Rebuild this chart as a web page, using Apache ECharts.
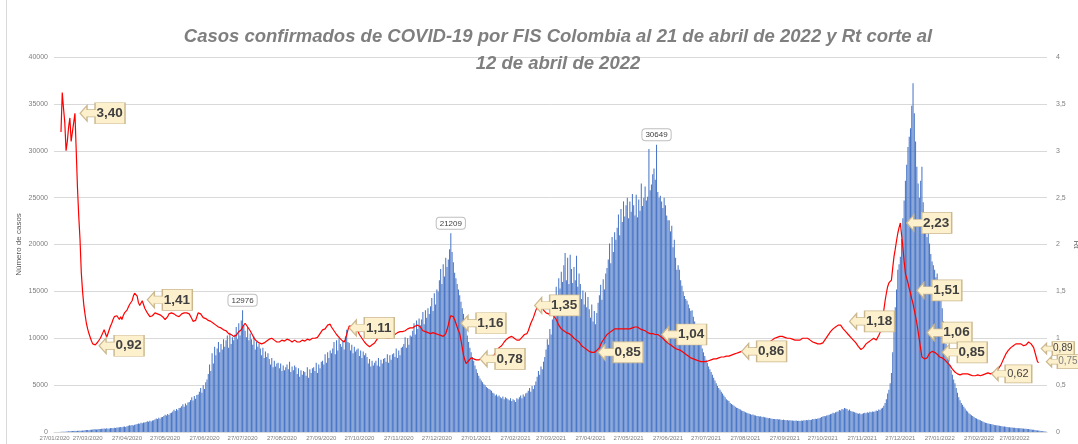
<!DOCTYPE html>
<html>
<head>
<meta charset="utf-8">
<script src="https://cdn.jsdelivr.net/npm/echarts@6/dist/echarts.min.js"></script>
<style>
  html, body { margin: 0; padding: 0; background: #fff; }
  #chart { width: 1078px; height: 444px; }
</style>
</head>
<body>
<div id="chart"></div>
<script>
// casos diarios por FIS: 27/01/2020 y luego desde 02/03/2020 hasta 21/04/2022
var cases = [
  1,
  3,6,9,12,18,25,32,
  40,52,61,70,85,96,110,
  118,126,112,130,141,122,135,
  150,172,190,205,221,198,230,
  245,262,290,305,278,300,318,
  330,355,342,371,360,390,348,
  380,412,440,398,455,430,470,
  480,510,545,498,560,590,530,
  610,655,720,690,760,705,780,
  810,850,920,880,975,930,1010,
  1020,1080,1150,1090,1190,1120,1240,
  1260,1330,1450,1380,1520,1410,1580,
  1600,1720,1850,1760,1930,1820,2010,
  2050,2190,2380,2240,2460,2310,2560,
  2600,2750,2950,2700,3050,2850,3150,
  3200,3400,3700,3350,3850,3550,3950,
  4000,4300,4700,4200,5000,4600,5300,
  5600,6200,7200,6500,8400,7300,9100,
  8200,8900,9600,8500,9400,8800,9900,
  9100,9800,10300,9000,10600,9400,10100,
  9800,10400,11200,9900,11600,10300,11900,
  12976,11400,10800,10100,11200,9800,10500,
  9900,9300,10200,8800,9600,9100,9400,
  8900,8200,9000,7900,8600,8000,8400,
  7800,7200,7900,6900,7600,7000,7300,
  7400,6800,7300,6500,7100,6600,6900,
  7200,6700,7500,6400,7000,6600,7100,
  6900,6200,6800,5900,6600,6100,6500,
  6400,6000,6900,5800,6700,6300,6800,
  6900,6500,7400,6300,7200,6800,7500,
  7600,7200,8300,7400,8500,7900,8700,
  8400,8900,9600,8300,9800,8700,10000,
  9400,9100,9700,8800,10200,10900,9600,
  9500,8700,9300,8400,9100,8600,8800,
  8900,8100,8700,7900,8600,8200,8400,
  8000,7300,7800,7000,7600,7100,7400,
  7600,7100,7900,7000,7700,7300,7800,
  7900,7500,8300,7400,8200,7700,8300,
  8400,8000,8900,7900,8700,8200,9000,
  9100,9400,10100,9000,10000,9300,10300,
  10200,10800,11600,10400,11900,11000,12100,
  11400,12000,12800,11500,13000,12200,13200,
  12600,13400,14300,12900,14800,13600,15200,
  15000,16200,17400,15800,17900,16600,18600,
  17600,18400,19500,21209,19200,18100,17000,
  16400,15800,15200,14600,13900,13200,12600,
  11800,11000,10300,9600,9000,8500,8000,
  7600,7100,6700,6300,6000,5700,5500,
  5300,5100,5000,4800,4700,4600,4500,
  4400,4200,4100,3900,4000,3800,3900,
  3700,3600,3800,3500,3700,3600,3500,
  3400,3600,3300,3500,3400,3200,3600,
  3500,3700,3900,3600,4000,3800,4100,
  4200,4400,4700,4300,4900,4600,5000,
  5400,5900,6500,6100,7000,6700,7500,
  8000,8800,9900,9300,11000,10400,12000,
  12800,13900,15500,14200,16400,15300,17100,
  16000,17800,19100,16200,18600,15800,18900,
  17400,15900,17600,16200,18800,15500,16900,
  15800,14200,15100,13600,14900,13300,14400,
  13100,12200,13600,11800,12900,11500,12700,
  13800,14600,15700,14100,16300,15200,16900,
  17500,18400,20100,18000,20800,19200,21300,
  20500,21800,23200,21000,23800,22400,24600,
  23000,24200,25000,22800,24600,23500,25400,
  24200,23100,25300,22900,24800,23600,26500,
  24100,25000,26200,24700,25100,30200,25800,
  26400,27500,28100,26900,30649,25600,25000,
  25200,24600,23900,25000,24200,23100,22600,
  22600,21400,22000,19700,20500,18600,17300,
  17800,17300,16200,15600,15000,14500,14200,
  14000,13600,13200,12900,13000,12300,11800,
  11200,10600,10100,9700,9300,8900,8500,
  8100,7700,7400,7000,6700,6400,6100,
  5800,5500,5200,4900,4700,4500,4300,
  4100,3900,3700,3500,3400,3300,3100,
  3000,2900,2800,2700,2600,2550,2450,
  2400,2300,2250,2200,2100,2050,2000,
  1950,1900,1850,1880,1800,1760,1720,
  1700,1650,1680,1600,1620,1580,1550,
  1520,1480,1500,1450,1420,1400,1380,
  1360,1400,1330,1350,1300,1280,1320,
  1290,1250,1270,1230,1260,1220,1240,
  1210,1190,1230,1180,1200,1170,1220,
  1200,1250,1230,1280,1260,1300,1290,
  1320,1380,1360,1420,1400,1450,1480,
  1520,1600,1650,1700,1680,1750,1800,
  1850,1900,1950,2050,2000,2100,2150,
  2200,2350,2300,2450,2400,2550,2500,
  2450,2300,2400,2250,2200,2150,2100,
  2050,2000,1950,2000,1900,1950,2000,
  2050,2000,2100,2050,2150,2100,2200,
  2150,2200,2300,2250,2400,2350,2500,
  2600,2800,3100,3500,4100,4500,5200,
  6300,8500,10800,13300,15200,17300,17900,
  18700,20600,22800,24700,26800,28500,30400,
  31500,32400,34800,37200,34000,31000,28300,
  26500,25000,26800,28300,24500,23400,22000,
  20800,21500,20100,19000,18200,17800,17300,
  16500,16900,15800,15100,14400,13200,11800,
  10500,9400,8400,7800,7200,6600,6100,
  5600,5200,4700,4200,3700,3400,3100,
  2900,2700,2500,2300,2200,2000,1900,
  1800,1700,1600,1500,1450,1350,1300,
  1250,1180,1120,1050,1000,960,920,
  880,850,820,790,760,730,710,
  690,660,640,620,600,580,560,
  540,520,510,490,480,460,450,
  440,420,410,400,390,370,360,
  350,340,320,310,290,270,250,
  230,210,190,170,150,130,110,
  90,70,50,30
];

// Rt diario (mismas fechas)
var rt = [
  null,null,null,null,null,
  3.2,3.62,3.45,3.3,3.0,3.1,3.25,3.35,3.1,3.2,3.3,3.4,3.0,2.6,2.3,2.05,
  1.7,1.5,1.35,1.25,1.16,1.1,1.05,1.01,0.97,0.94,
  0.92,0.93,0.95,0.96,0.98,1.0,1.03,1.06,1.09,1.05,
  1.01,1.0,1.09,1.13,1.16,1.2,1.23,1.21,1.24,1.22,
  1.2,1.23,1.2,1.24,1.27,1.28,1.3,1.33,1.36,1.38,
  1.4,1.45,1.48,1.46,1.45,1.38,1.35,1.37,1.4,1.36,
  1.32,1.3,1.27,1.25,1.23,1.22,1.24,1.26,1.27,1.28,
  1.26,1.27,1.25,1.25,1.23,1.22,1.2,1.2,1.23,1.26,
  1.28,1.27,1.26,1.26,1.25,1.24,1.23,1.23,1.24,1.26,
  1.27,1.27,1.26,1.27,1.26,1.26,1.24,1.21,1.18,1.16,
  1.19,1.23,1.27,1.28,1.26,1.24,1.22,1.22,1.21,1.2,
  1.19,1.19,1.18,1.17,1.16,1.15,1.14,1.13,1.12,1.12,
  1.11,1.1,1.09,1.09,1.08,1.07,1.05,1.05,1.04,1.03,
  1.02,1.01,1.03,1.05,1.07,1.08,1.09,1.12,1.14,1.16,
  1.15,1.12,1.1,1.08,1.06,1.03,1.0,0.98,0.97,0.96,
  0.95,0.95,0.94,0.95,0.95,0.96,0.97,0.98,0.99,1.0,
  1.0,0.99,0.98,0.97,0.96,0.96,0.96,0.97,0.98,0.97,
  0.97,0.98,0.99,0.98,0.98,0.97,0.96,0.97,0.98,0.97,
  0.96,0.96,0.96,0.97,0.98,0.98,0.97,0.98,0.99,0.98,
  0.98,0.99,1.0,1.01,1.0,1.01,1.01,1.03,1.05,1.07,
  1.09,1.1,1.1,1.12,1.14,1.16,1.15,1.12,1.1,1.08,
  1.06,1.04,1.02,1.01,0.99,0.98,0.97,0.96,0.99,1.04,
  1.09,1.13,1.14,1.13,1.14,1.14,1.12,1.1,1.07,1.04,
  1.02,1.0,0.98,0.96,0.94,0.93,0.92,0.91,0.92,0.93,
  0.94,0.95,0.97,0.99,1.02,1.05,1.04,1.03,1.02,1.01,
  1.0,1.0,1.0,1.0,1.01,1.02,1.03,1.04,1.05,1.06,
  1.07,1.07,1.06,1.07,1.08,1.08,1.09,1.1,1.1,1.11,
  1.11,1.11,1.12,1.13,1.14,1.14,1.14,1.12,1.1,1.08,
  1.07,1.07,1.07,1.06,1.06,1.05,1.05,1.06,1.05,1.05,
  1.05,1.04,1.04,1.03,1.02,1.02,1.02,1.05,1.09,1.14,
  1.2,1.24,1.25,1.23,1.2,1.18,1.12,1.08,1.05,0.98,
  0.9,0.82,0.77,0.73,0.74,0.76,0.78,0.79,0.79,0.78,
  0.78,0.77,0.77,0.77,0.77,0.78,0.78,0.79,0.8,0.8,
  0.8,0.8,0.8,0.8,0.8,0.82,0.84,0.86,0.88,0.9,
  0.91,0.92,0.94,0.96,0.98,0.99,1.0,1.01,1.02,1.02,
  1.01,1.0,0.99,0.98,0.98,0.98,0.99,1.01,1.03,1.04,
  1.05,1.05,1.08,1.12,1.16,1.19,1.22,1.26,1.3,1.33,
  1.34,1.35,1.35,1.33,1.3,1.28,1.27,1.26,1.26,1.25,
  1.25,1.25,1.24,1.22,1.2,1.17,1.14,1.12,1.1,1.09,
  1.08,1.07,1.06,1.05,1.05,1.05,1.03,1.01,1.0,0.99,
  0.98,0.98,0.96,0.94,0.92,0.91,0.9,0.89,0.88,0.87,
  0.86,0.86,0.85,0.85,0.85,0.86,0.87,0.88,0.9,0.93,
  0.96,0.98,1.0,1.02,1.04,1.05,1.06,1.07,1.08,1.09,
  1.1,1.1,1.1,1.1,1.1,1.1,1.1,1.11,1.1,1.1,
  1.1,1.1,1.1,1.11,1.11,1.12,1.12,1.12,1.12,1.11,
  1.1,1.1,1.09,1.09,1.08,1.07,1.06,1.06,1.05,1.05,
  1.05,1.04,1.04,1.04,1.04,1.03,1.02,1.01,1.0,0.98,
  0.97,0.96,0.95,0.94,0.93,0.92,0.91,0.9,0.89,0.88,
  0.88,0.88,0.87,0.86,0.85,0.84,0.83,0.82,0.81,0.8,
  0.79,0.78,0.78,0.78,0.77,0.77,0.76,0.76,0.75,0.75,
  0.75,0.75,0.75,0.76,0.76,0.76,0.77,0.77,0.78,0.78,
  0.78,0.79,0.79,0.79,0.8,0.8,0.8,0.8,0.81,0.81,
  0.81,0.82,0.82,0.82,0.83,0.83,0.84,0.84,0.85,0.85,
  0.86,0.86,0.86,0.87,0.87,0.88,0.88,0.88,0.89,0.89,
  0.89,0.9,0.9,0.9,0.91,0.91,0.92,0.93,0.93,0.94,
  0.95,0.95,0.96,0.97,0.98,0.99,1.0,1.0,1.01,1.02,
  1.02,1.02,1.02,1.01,1.01,1.0,1.0,1.0,1.0,1.0,
  0.99,0.99,0.98,0.98,0.98,0.97,0.98,0.99,1.0,1.0,
  1.0,1.0,1.0,0.99,0.98,0.97,0.96,0.96,0.95,0.95,
  0.94,0.94,0.94,0.94,0.95,0.97,0.99,1.01,1.03,1.05,
  1.07,1.09,1.1,1.11,1.12,1.13,1.14,1.15,1.14,1.12,
  1.1,1.08,1.07,1.05,1.04,1.03,1.01,1.0,0.98,0.97,
  0.95,0.93,0.91,0.89,0.88,0.88,0.9,0.92,0.94,0.96,
  0.96,0.96,0.98,1.0,1.0,0.99,0.98,1.0,1.03,1.06,
  1.12,1.19,1.3,1.4,1.48,1.55,1.59,1.6,1.62,1.75,
  1.87,1.95,2.04,2.12,2.18,2.23,2.1,1.97,1.82,1.69,
  1.64,1.59,1.53,1.48,1.42,1.37,1.3,1.23,1.16,1.07,
  0.98,0.89,0.8,0.79,0.78,0.78,0.79,0.81,0.84,0.85,
  0.86,0.86,0.85,0.84,0.83,0.82,0.8,0.79,0.79,0.78,
  0.77,0.76,0.74,0.73,0.71,0.69,0.67,0.65,0.64,0.63,
  0.62,0.61,0.61,0.61,0.62,0.62,0.62,0.63,0.62,0.62,
  0.61,0.61,0.6,0.6,0.6,0.61,0.61,0.6,0.6,0.61,
  0.61,0.62,0.62,0.62,0.63,0.62,0.62,0.63,0.63,0.64,
  0.65,0.66,0.67,0.69,0.71,0.74,0.77,0.8,0.83,0.85,
  0.87,0.89,0.9,0.91,0.92,0.93,0.94,0.93,0.94,0.95,
  0.94,0.93,0.92,0.92,0.93,0.95,0.96,0.96,0.94,0.92,
  0.9,0.88,0.8,0.75,0.74
];

var tickLabels = [
  '27/01/2020','27/03/2020','27/04/2020','27/05/2020','27/06/2020','27/07/2020',
  '27/08/2020','27/09/2020','27/10/2020','27/11/2020','27/12/2020','27/01/2021',
  '27/02/2021','27/03/2021','27/04/2021','27/05/2021','27/06/2021','27/07/2021',
  '27/08/2021','27/09/2021','27/10/2021','27/11/2021','27/12/2021','27/01/2022',
  '27/02/2022','27/03/2022'
];

// valores de casos rotulados
var peakCases = [12976, 21209, 30649];

// llamadas de Rt: fecha y valor
var rtCalloutDates = [
  '21/03/2020','05/04/2020','13/05/2020','19/10/2020','15/01/2021','30/01/2021',
  '14/03/2021','03/05/2021','22/06/2021','24/08/2021','17/11/2021','01/01/2022',
  '09/01/2022','17/01/2022','29/01/2022','09/03/2022','17/04/2022','21/04/2022'
];
var rtCalloutValues = [
  3.40, 0.92, 1.41, 1.11, 1.16, 0.78,
  1.35, 0.85, 1.04, 0.86, 1.18, 2.23,
  1.51, 1.06, 0.85, 0.62, 0.89, 0.75
];

// fechas de categorias
var days = ['27/01/2020'];
var t0 = Date.UTC(2020, 2, 2);
for (var i = 0; i < cases.length - 1; i++) {
  var d = new Date(t0 + i * 86400000);
  var dd = ('0' + d.getUTCDate()).slice(-2);
  var mm = ('0' + (d.getUTCMonth() + 1)).slice(-2);
  days.push(dd + '/' + mm + '/' + d.getUTCFullYear());
}

function comma(v) { return v.toFixed(2).replace('.', ','); }

var calloutPath = 'path://M15,0 L45,0 L45,20 L15,20 L15,13.5 L7,13.5 L7,17.5 L0,10 L7,2.5 L7,6.5 L15,6.5 Z';

var rtMarks = [];
for (var k = 0; k < rtCalloutDates.length; k++) {
  var w = 45, h = 21, fs = 13.5, fw = 'bold', col = '#404040';
  if (k === 15) { w = 40; h = 18; fs = 11; fw = 'normal'; }
  if (k >= 16) { w = 33; h = 14; fs = 10; fw = 'normal'; }
  if (k === 17) { col = '#7f7f7f'; }
  rtMarks.push({
    coord: [rtCalloutDates[k], rtCalloutValues[k]],
    value: rtCalloutValues[k],
    symbolSize: [w, h],
    symbolOffset: [w / 2, 0],
    label: {
      formatter: comma(rtCalloutValues[k]),
      fontSize: fs, fontWeight: fw, color: col,
      offset: [w / 2 - (w * 30 / 45) / 2 - 0.5, 0]
    }
  });
}

var peakMarks = peakCases.map(function (v) {
  return { coord: [cases.indexOf(v), v], value: v };
});

var myChart = echarts.init(document.getElementById('chart'));

myChart.setOption({
  animation: false,
  backgroundColor: '#ffffff',
  textStyle: { fontFamily: 'Liberation Sans, Arial, sans-serif' },
  title: {
    text: 'Casos confirmados de COVID-19 por FIS Colombia al 21 de abril de 2022 y Rt corte al\n12 de abril de 2022',
    left: 553,
    top: 18,
    textAlign: 'center',
    textStyle: {
      color: '#7f7f7f',
      fontSize: 18.5,
      fontWeight: 'bold',
      fontStyle: 'italic',
      lineHeight: 27
    }
  },
  graphic: [{
    type: 'line',
    shape: { x1: 6.5, y1: 0, x2: 6.5, y2: 444 },
    style: { stroke: '#d9d9d9', lineWidth: 1 }
  }],
  grid: { left: 54, right: 31, top: 57, bottom: 12, outerBoundsMode: 'none', containLabel: false },
  xAxis: {
    type: 'category',
    data: days,
    axisTick: { show: false },
    axisLine: { lineStyle: { color: '#d9d9d9' } },
    axisLabel: {
      interval: function (index, value) { return tickLabels.indexOf(value) >= 0; },
      fontSize: 6,
      color: '#7f7f7f',
      margin: 3
    }
  },
  yAxis: [{
    type: 'value',
    min: 0, max: 40000, interval: 5000,
    name: 'Número de casos',
    nameLocation: 'middle',
    nameGap: 31,
    nameMoveOverlap: false,
    nameTextStyle: { fontSize: 8, color: '#595959' },
    axisLine: { show: false },
    axisTick: { show: false },
    axisLabel: {
      fontSize: 7, color: '#7f7f7f', margin: 6,
      formatter: function (v) { return String(v); }
    },
    splitLine: { lineStyle: { color: '#d9d9d9', width: 1 } }
  }, {
    type: 'value',
    min: 0, max: 4, interval: 0.5,
    name: 'Rt',
    nameLocation: 'middle',
    nameGap: 25,
    nameRotate: -90,
    nameMoveOverlap: false,
    nameTextStyle: { fontSize: 8, color: '#595959' },
    axisLine: { show: false },
    axisTick: { show: false },
    axisLabel: {
      fontSize: 7, color: '#7f7f7f', margin: 9,
      formatter: function (v) { return String(v).replace('.', ','); }
    },
    splitLine: { show: false }
  }],
  series: [{
    name: 'Casos',
    type: 'bar',
    data: cases,
    yAxisIndex: 0,
    barCategoryGap: '18%',
    itemStyle: { color: '#4a76c6' },
    markPoint: {
      symbol: 'circle',
      symbolSize: 1,
      itemStyle: { color: 'rgba(0,0,0,0)' },
      label: {
        position: 'top',
        distance: 4,
        fontSize: 8,
        color: '#404040',
        backgroundColor: '#ffffff',
        borderColor: '#bfbfbf',
        borderWidth: 1,
        borderRadius: 3,
        padding: [2, 3, 1, 3]
      },
      data: peakMarks
    }
  }, {
    name: 'Rt',
    type: 'line',
    data: rt,
    yAxisIndex: 1,
    showSymbol: false,
    symbol: 'none',
    lineStyle: { color: '#ff0000', width: 1.2 },
    z: 3,
    markPoint: {
      symbol: calloutPath,
      symbolKeepAspect: false,
      itemStyle: { color: '#fdf0cc', borderColor: '#cbb88e', borderWidth: 1 },
      label: { show: true, position: 'inside' },
      z: 5,
      data: rtMarks
    }
  }]
});
</script>
</body>
</html>
